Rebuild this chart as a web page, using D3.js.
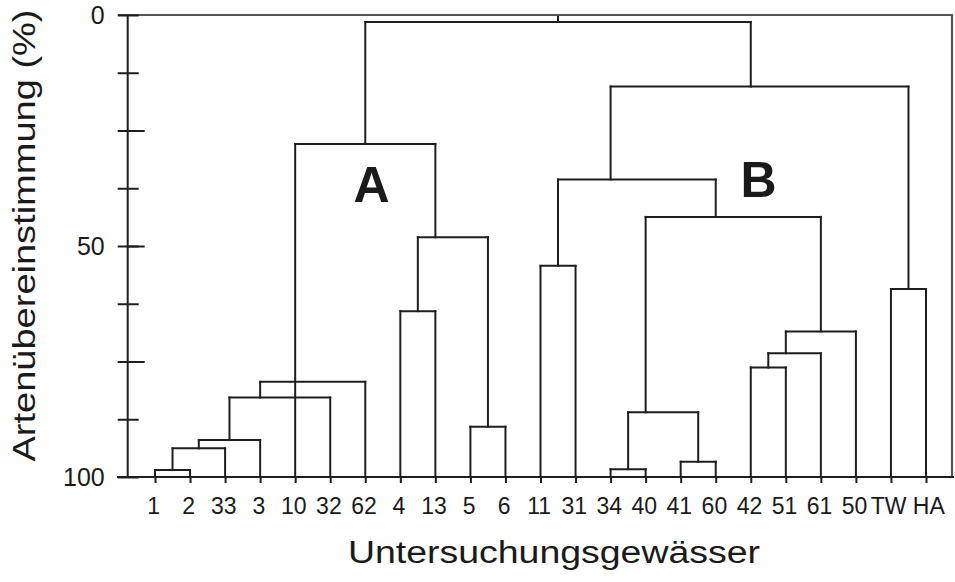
<!DOCTYPE html>
<html>
<head>
<meta charset="utf-8">
<script src="https://cdn.jsdelivr.net/npm/d3@7"></script>
<style>
  html, body { margin: 0; padding: 0; background: #fff; }
  svg { display: block; }
  text { font-family: "Liberation Sans", Arial, Helvetica, sans-serif; fill: #1a1a1a; }
</style>
</head>
<body>
<svg id="chart" width="955" height="582"></svg>
<script>
// ---------- data ----------
const leaves = ["1","2","33","3","10","32","62","4","13","5","6","11","31","34","40","41","60","42","51","61","50","TW","HA"];

// agglomeration steps: [node id, members, species agreement (%)]
const merges = [
  ["a1", ["1","2"], 98.5],
  ["a2", ["a1","33"], 93.8],
  ["a3", ["a2","3"], 92.0],
  ["a4", ["a3","32"], 82.8],
  ["a5", ["a4","10","62"], 79.4],
  ["a6", ["4","13"], 64.1],
  ["a7", ["5","6"], 89.1],
  ["a8", ["a6","a7"], 48.1],
  ["A",  ["a5","a8"], 27.9],
  ["b1", ["11","31"], 54.3],
  ["b2", ["34","40"], 98.3],
  ["b3", ["41","60"], 96.7],
  ["b4", ["b2","b3"], 86.0],
  ["b5", ["42","51"], 76.3],
  ["b6", ["b5","61"], 73.2],
  ["b7", ["b6","50"], 68.5],
  ["b8", ["b4","b7"], 43.7],
  ["b9", ["b1","b8"], 35.6],
  ["b10",["TW","HA"], 59.3],
  ["B",  ["b9","b10"], 15.5],
  ["root",["A","B"], 1.5]
];
// leaf whose line the stem of a cluster is drawn on (as in the original figure)
const stemAt = { a4: "3", a5: "10", a8: "13", b4: "40", b6: "51", b8: "60", b9: "34", B: "42" };

const yTicks = [0, 12.5, 25, 37.5, 50, 62.5, 75, 87.5, 100];
const yTickLabels = [0, 50, 100];
const yLongTicks = [25, 50, 75];
const clusterLabels = [["A", "A"], ["B", "B"]];
const xTitle = "Untersuchungsgewässer";
const yTitle = "Artenübereinstimmung (%)";

// ---------- layout ----------
const svg = d3.select("#chart");
const axisX = 127.7, plotTop = 15, plotBottom = 477, plotRight = 952;

const y = d3.scaleLinear().domain([0, 100]).range([plotTop, plotBottom]);
const x = d3.scalePoint().domain(leaves).range([155, 926]);

// build hierarchy
const nodeMap = new Map();
leaves.forEach(l => nodeMap.set(l, { id: l, h: 100 }));
merges.forEach(([id, kids, h]) => nodeMap.set(id, { id, h, children: kids.map(k => nodeMap.get(k)) }));
const root = d3.hierarchy(nodeMap.get("root"));

// positions
root.eachAfter(n => {
  if (!n.children) { n.px = x(n.data.id); }
  else if (stemAt[n.data.id]) { n.px = x(stemAt[n.data.id]); }
  else {
    const xs = n.children.map(c => c.px);
    n.px = (d3.min(xs) + d3.max(xs)) / 2;
  }
  n.py = y(n.data.h);
});

const g = svg.append("g");
const lineStyle = sel => sel.attr("stroke", "#1e1e1e").attr("stroke-width", 2).attr("fill", "none");

// frame (top and right)
svg.append("path")
  .attr("d", `M118,${plotTop}H${plotRight}V${plotBottom}`)
  .attr("stroke", "#555").attr("stroke-width", 2.2).attr("fill", "none");

// dendrogram segments
const segs = [];
root.each(n => {
  if (n.children) {
    const xs = n.children.map(c => c.px);
    segs.push([d3.min(xs), n.py, d3.max(xs), n.py]);
    n.children.forEach(c => segs.push([c.px, c.py, c.px, n.py]));
  }
});
segs.push([root.px, root.py, root.px, y(0)]);

g.selectAll("line.seg").data(segs).join("line")
  .attr("class", "seg")
  .attr("x1", d => d[0]).attr("y1", d => d[1])
  .attr("x2", d => d[2]).attr("y2", d => d[3])
  .call(lineStyle)
  .attr("stroke-linecap", "square");

// y axis (left part with labels)
const yAxisL = d3.axisLeft(y).tickValues(yTicks).tickSize(10).tickPadding(13)
  .tickFormat(d => yTickLabels.includes(d) ? d : "");
const gyl = svg.append("g").attr("transform", `translate(${axisX},0)`).call(yAxisL);
gyl.select(".domain").attr("stroke", "#1e1e1e").attr("stroke-width", 2).attr("d", `M0,${plotTop}V${plotBottom}`);
gyl.selectAll(".tick line").attr("stroke", "#1e1e1e").attr("stroke-width", 2);
gyl.selectAll(".tick text").attr("font-size", 25).attr("fill", "#1a1a1a")
  .attr("font-family", "'Liberation Sans', Arial, sans-serif");

// y axis inner ticks
const gyr = svg.append("g").attr("transform", `translate(${axisX},0)`)
  .call(d3.axisRight(y).tickValues(yTicks).tickSize(11).tickFormat(""));
gyr.select(".domain").remove();
gyr.selectAll(".tick line").attr("stroke", "#1e1e1e").attr("stroke-width", 2);
const gyr2 = svg.append("g").attr("transform", `translate(${axisX},0)`)
  .call(d3.axisRight(y).tickValues(yLongTicks).tickSize(17).tickFormat(""));
gyr2.select(".domain").remove();
gyr2.selectAll(".tick line").attr("stroke", "#1e1e1e").attr("stroke-width", 2);

// x axis
const xAxis = d3.axisBottom(x).tickSize(6).tickPadding(15);
const gx = svg.append("g").attr("transform", `translate(0,${plotBottom})`).call(xAxis);
gx.select(".domain").attr("stroke", "#1e1e1e").attr("stroke-width", 2).attr("d", `M117,0H954`);
gx.selectAll(".tick line").attr("stroke", "#1e1e1e").attr("stroke-width", 2);
gx.selectAll(".tick text").attr("font-size", 23).attr("fill", "#1a1a1a")
  .attr("font-family", "'Liberation Sans', Arial, sans-serif")
  .attr("dx", d => d === "TW" ? "-0.12em" : d === "HA" ? "0.1em" : "-0.08em");

// cluster labels
const clusterPos = { A: [371.5, 201.5], B: [758.5, 197] };
svg.selectAll("text.cl").data(clusterLabels).join("text")
  .attr("class", "cl")
  .attr("x", d => clusterPos[d[0]][0])
  .attr("y", d => clusterPos[d[0]][1])
  .attr("text-anchor", "middle")
  .attr("font-size", 50).attr("font-weight", "bold")
  .text(d => d[1]);

// axis titles
svg.append("text")
  .attr("x", 554).attr("y", 563)
  .attr("text-anchor", "middle")
  .attr("font-size", 31)
  .attr("textLength", 412).attr("lengthAdjust", "spacingAndGlyphs")
  .text(xTitle);

svg.append("text")
  .attr("transform", `translate(35,235.5) rotate(-90)`)
  .attr("text-anchor", "middle")
  .attr("font-size", 31)
  .attr("textLength", 452).attr("lengthAdjust", "spacingAndGlyphs")
  .text(yTitle);
</script>
</body>
</html>
